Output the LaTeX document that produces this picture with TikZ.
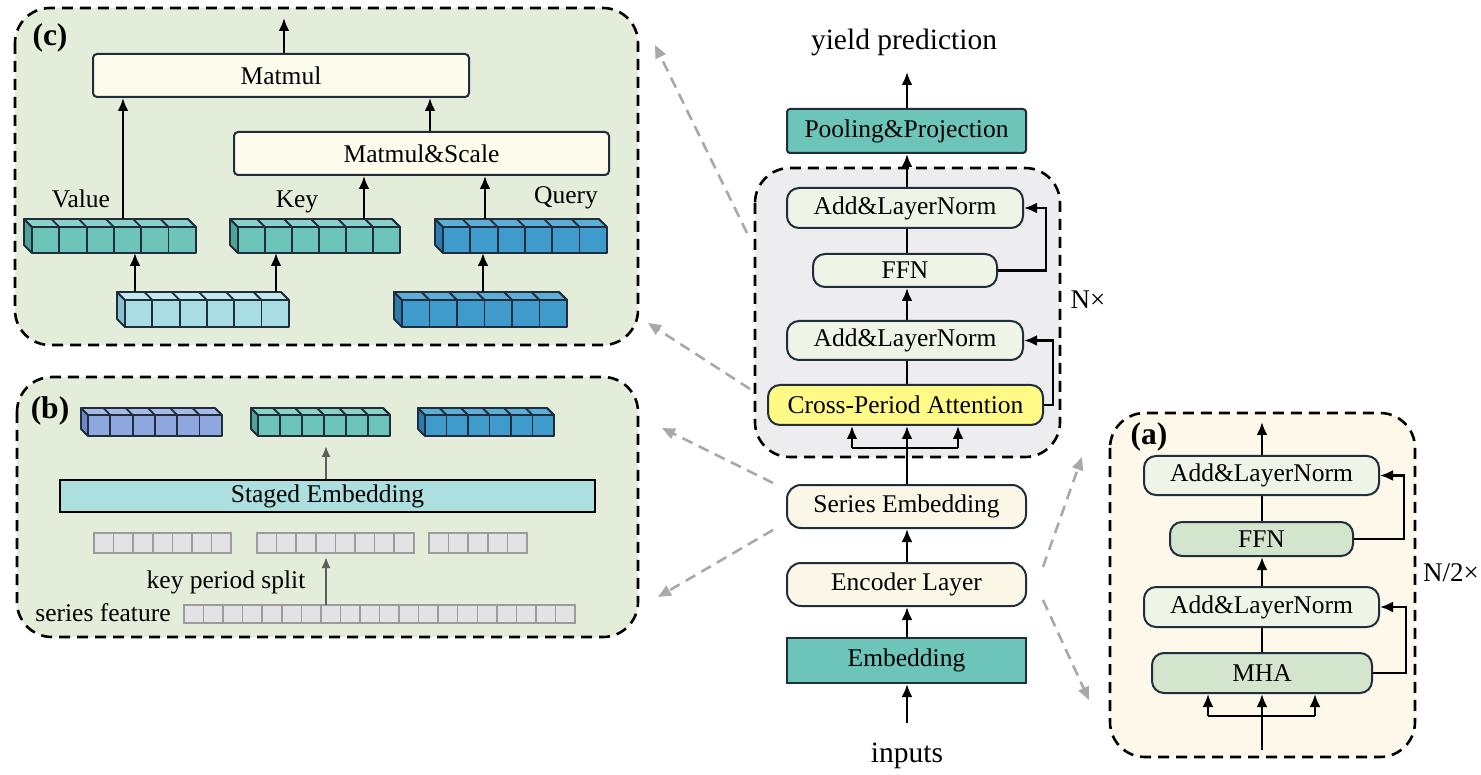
\documentclass[tikz,border=0pt]{standalone}
\usepackage{fontspec}
\setmainfont{Liberation Serif}
\usetikzlibrary{arrows.meta}
\definecolor{navy}{HTML}{1F2D3D}
\definecolor{pgreen}{HTML}{E3EDDA}
\definecolor{grayp}{HTML}{EDEDEF}
\definecolor{mcream}{HTML}{FDFBEB}
\definecolor{scream}{HTML}{FBF7E6}
\definecolor{acream}{HTML}{FDF8EA}
\definecolor{lgreen}{HTML}{EEF5E7}
\definecolor{mgreen}{HTML}{D3E6CD}
\definecolor{tealc}{HTML}{6DC5B9}
\definecolor{yellowc}{HTML}{FFF985}
\definecolor{stagedc}{HTML}{ABDFE0}
\definecolor{gline}{HTML}{A9A9A9}
\definecolor{sqfill}{HTML}{E3E3E5}
\definecolor{sqline}{HTML}{9C9C9C}
\definecolor{agray}{HTML}{5E5E5E}
\definecolor{tF}{HTML}{6DC5B9}\definecolor{tT}{HTML}{8AD2C7}\definecolor{tS}{HTML}{4FA397}
\definecolor{qF}{HTML}{3E9BCB}\definecolor{qT}{HTML}{5DAED7}\definecolor{qS}{HTML}{2D7DAC}
\definecolor{lF}{HTML}{A9DDE4}\definecolor{lT}{HTML}{C3E8EE}\definecolor{lS}{HTML}{88C2CC}
\definecolor{pF}{HTML}{8FA7DF}\definecolor{pT}{HTML}{A8BBE7}\definecolor{pS}{HTML}{6E87C4}
\newcommand{\fs}{\fontsize{25.5pt}{30pt}\selectfont}
\newcommand{\bfs}{\fontsize{31.5pt}{36pt}\selectfont\bfseries}
\newcommand{\bigfs}{\fontsize{29.5pt}{34pt}\selectfont}
\def\cubed{8}
% name, x0, yt, n, w, h, front, top, side
\newcommand{\cuberow}[9]{%
  \pgfmathsetmacro{\cx}{#2+#4*#5}%
  \filldraw[cubeline, fill=#9] (#2,#3) -- (#2,#3+#6) -- (#2-\cubed,#3+#6-\cubed) -- (#2-\cubed,#3-\cubed) -- cycle;
  \filldraw[cubeline, fill=#8] (#2,#3) -- (\cx,#3) -- (\cx-\cubed,#3-\cubed) -- (#2-\cubed,#3-\cubed) -- cycle;
  \foreach \i in {1,...,#4}{%
    \filldraw[cubeline, fill=#7] ({#2+(\i-1)*#5},#3) rectangle ({#2+\i*#5},#3+#6);
    \draw[cubeline] ({#2+\i*#5},#3) -- ++(-\cubed,-\cubed);
  }
  \node[inner sep=0pt, outer sep=0pt, minimum width={#4*#5+\cubed}, minimum height={#6+\cubed}, anchor=south east] (#1) at (\cx,#3+#6) {};
}
% name, x0, yt, n, w, h
\newcommand{\sqrow}[6]{%
  \foreach \i in {1,...,#4}{%
    \filldraw[draw=sqline, fill=sqfill, line width=1.5pt] ({#2+(\i-1)*#5},#3) rectangle ({#2+\i*#5},#3+#6);
  }
  \node[inner sep=0pt, outer sep=0pt, minimum width={#4*#5}, minimum height={#6}, anchor=north west] (#1) at (#2,#3) {};
}
\begin{document}
\begin{tikzpicture}[x=1pt,y=-1pt,
  cubeline/.style={draw=navy, line width=1.8pt, line join=round},
  arr/.style={line width=2.6pt, -{Latex[length=13pt,width=11pt]}},
  ln/.style={line width=2.6pt},
  garr/.style={draw=gline, line width=2.6pt, dash pattern=on 11pt off 7pt, -{Triangle[length=13pt,width=11pt]}},
  darr/.style={draw=agray, line width=2pt, -{Latex[length=11pt,width=9pt]}},
  panel/.style={draw=black, line width=2.6pt, dash pattern=on 11pt off 7pt, rounded corners=35pt},
  box/.style={draw=navy, line width=2pt, inner sep=0pt, font=\fs},
  txt/.style={font=\fs, inner sep=0pt}]
\useasboundingbox (0,0) rectangle (1481,775);

% ================= panel (c) =================
\draw[panel, fill=pgreen] (15,8) rectangle (638,345);
\node[font=\bfs, inner sep=0pt] (lc) at (50,38) {(c)};
\node[box, fill=mcream, rounded corners=4pt, minimum width=376pt, minimum height=43pt] (mm) at (281,75.5) {Matmul};
\node[box, fill=mcream, rounded corners=4pt, minimum width=375pt, minimum height=43pt] (ms) at (421.5,153.5) {Matmul\&Scale};
\node[txt] (lval) at (81,199) {Value};
\node[txt] (lkey) at (297,202) {Key};
\node[txt] (lqry) at (566,198) {Query};
\cuberow{val}{32}{227}{6}{27.3}{26}{tF}{tT}{tS}
\cuberow{key}{238}{227}{6}{27}{26}{tF}{tT}{tS}
\cuberow{qry}{443}{227}{6}{27.3}{26}{qF}{qT}{qS}
\cuberow{lowl}{125}{300}{6}{27.3}{27}{lF}{lT}{lS}
\cuberow{lowq}{402}{300}{6}{27.5}{27}{qF}{qT}{qS}
\coordinate (ctop) at (284,18);
\draw[arr] (mm.north -| ctop) -- (ctop);
\draw[arr] (val.north -| 123,0) -- (mm.south -| 123,0);
\draw[arr] (ms.north -| 430,0) -- (mm.south -| 430,0);
\draw[arr] (key.north -| 364,0) -- (ms.south -| 364,0);
\draw[arr] (qry.north -| 485,0) -- (ms.south -| 485,0);
\draw[arr] (lowl.north -| 135,0) -- (val.south -| 135,0);
\draw[arr] (lowl.north -| 276,0) -- (key.south -| 276,0);
\draw[arr] (lowq.north -| 483,0) -- (qry.south -| 483,0);

% ================= panel (b) =================
\draw[panel, fill=pgreen] (17,377) rectangle (638,637);
\node[font=\bfs, inner sep=0pt] (lb) at (50,411) {(b)};
\def\cubed{7}
\cuberow{bp}{88}{415}{6}{22.3}{21}{pF}{pT}{pS}
\cuberow{bt}{258}{415}{6}{22}{21}{tF}{tT}{tS}
\cuberow{bq}{425}{415}{6}{21.5}{21}{qF}{qT}{qS}
\node[draw=black, line width=2.5pt, fill=stagedc, minimum width=535pt, minimum height=32pt, font=\fs, inner sep=0pt] (se) at (327.5,496) {Staged Embedding};
\sqrow{g1}{94}{533}{7}{19.6}{20}
\sqrow{g2}{257}{533}{8}{19.6}{20}
\sqrow{g3}{429}{533}{5}{19.6}{20}
\sqrow{sf}{184}{605}{20}{19.55}{18}
\node[txt] (lkps) at (226,582) {key period split};
\node[txt] (lsf) at (103,613) {series feature};
\draw[darr, shorten >=10pt] (se.north -| 326,0) -- (bt.south -| 326,0);
\draw[darr, shorten >=4pt] (sf.north -| 326,0) -- (g2.south -| 326,0);

% ================= main column =================
\draw[panel, fill=grayp] (755,168) rectangle (1060,457);
\node[font=\bigfs, inner sep=0pt] (yp) at (904,42) {yield prediction};
\node[box, fill=tealc, rounded corners=3pt, minimum width=239pt, minimum height=44pt] (pool) at (906.5,131) {Pooling\&Projection};
\node[box, fill=lgreen, rounded corners=12pt, minimum width=236pt, minimum height=40pt] (addT) at (905,208) {Add\&LayerNorm};
\node[box, fill=lgreen, rounded corners=12pt, minimum width=184pt, minimum height=33pt] (ffnM) at (905,270.5) {FFN};
\node[box, fill=lgreen, rounded corners=12pt, minimum width=236pt, minimum height=39pt] (addB) at (905,340.5) {Add\&LayerNorm};
\node[box, fill=yellowc, rounded corners=12pt, minimum width=275pt, minimum height=40pt] (cpa) at (905.5,405) {Cross-Period Attention};
\node[box, fill=scream, rounded corners=14pt, minimum width=239pt, minimum height=43pt] (ser) at (906.5,506.5) {Series Embedding};
\node[box, fill=scream, rounded corners=14pt, minimum width=239pt, minimum height=43pt] (enc) at (906.5,584.5) {Encoder Layer};
\node[box, fill=tealc, minimum width=239pt, minimum height=45pt] (emb) at (906.5,660.5) {Embedding};
\node[font=\bigfs, inner sep=0pt] (inp) at (907,756) {inputs};
\node[font=\fontsize{27pt}{30pt}\selectfont, inner sep=0pt] (nx) at (1088,300) {N×};

\coordinate (ytip) at (907,72);
\coordinate (ibot) at (907,723);
\draw[arr] (pool.north -| ytip) -- (ytip);
\draw[arr] (addT.north -| ytip) -- (pool.south -| ytip);
\draw[ln] (ffnM.north -| ytip) -- (addT.south -| ytip);
\draw[arr] (addB.north -| ytip) -- (ffnM.south -| ytip);
\draw[ln] (cpa.north -| ytip) -- (addB.south -| ytip);
\draw[arr] (ffnM.east) -- ++(48,0) |- (addT.east);
\draw[arr] (cpa.east) -- ++(9,0) |- (addB.east);
\coordinate (fL) at (852,448);
\coordinate (fR) at (958,448);
\draw[ln] (fL) -- (fR);
\draw[arr] (fL) -- (fL |- cpa.south);
\draw[arr] (fR) -- (fR |- cpa.south);
\draw[arr] (ser.north -| ytip) -- (cpa.south -| ytip);
\draw[arr] (enc.north -| ytip) -- (ser.south -| ytip);
\draw[arr] (emb.north -| ytip) -- (enc.south -| ytip);
\draw[arr] (ibot) -- (emb.south -| ibot);

% ================= panel (a) =================
\draw[panel, fill=acream] (1110,413) rectangle (1415,757);
\node[font=\bfs, inner sep=0pt] (la) at (1149,437) {(a)};
\node[box, fill=lgreen, rounded corners=12pt, minimum width=235pt, minimum height=39pt] (aA1) at (1261.5,475.5) {Add\&LayerNorm};
\node[box, fill=mgreen, rounded corners=12pt, minimum width=183pt, minimum height=34pt] (aF) at (1261.5,539) {FFN};
\node[box, fill=lgreen, rounded corners=12pt, minimum width=235pt, minimum height=40pt] (aA2) at (1261.5,607) {Add\&LayerNorm};
\node[box, fill=mgreen, rounded corners=12pt, minimum width=220pt, minimum height=40pt] (aM) at (1262,673) {MHA};
\node[font=\fontsize{27pt}{30pt}\selectfont, inner sep=0pt] (n2x) at (1451,573) {N/2×};
\coordinate (atip) at (1262,422);
\coordinate (abot) at (1262,750);
\draw[arr] (aA1.north -| atip) -- (atip);
\draw[ln] (aF.north -| atip) -- (aA1.south -| atip);
\draw[arr] (aA2.north -| atip) -- (aF.south -| atip);
\draw[ln] (aM.north -| atip) -- (aA2.south -| atip);
\draw[arr] (aF.east) -- ++(50,0) |- (aA1.east);
\draw[arr] (aM.east) -- ++(33,0) |- (aA2.east);
\coordinate (aL) at (1208,716);
\coordinate (aR) at (1315,716);
\draw[ln] (aL) -- (aR);
\draw[arr] (aL) -- (aL |- aM.south);
\draw[arr] (aR) -- (aR |- aM.south);
\draw[arr] (abot) -- (aM.south -| abot);

% ================= grey zoom connectors =================
\coordinate (ga1) at (747,233); \coordinate (ga2) at (655,45);
\coordinate (gb1) at (750,389); \coordinate (gb2) at (648,323);
\coordinate (gc1) at (773,483); \coordinate (gc2) at (662,428);
\coordinate (gd1) at (773,530); \coordinate (gd2) at (658,597);
\coordinate (ge1) at (1043,567); \coordinate (ge2) at (1082,457);
\coordinate (gf1) at (1043,600); \coordinate (gf2) at (1089,700);
\draw[garr] (ga1) -- (ga2);
\draw[garr] (gb1) -- (gb2);
\draw[garr] (gc1) -- (gc2);
\draw[garr] (gd1) -- (gd2);
\draw[garr] (ge1) -- (ge2);
\draw[garr] (gf1) -- (gf2);
\end{tikzpicture}
\end{document}
